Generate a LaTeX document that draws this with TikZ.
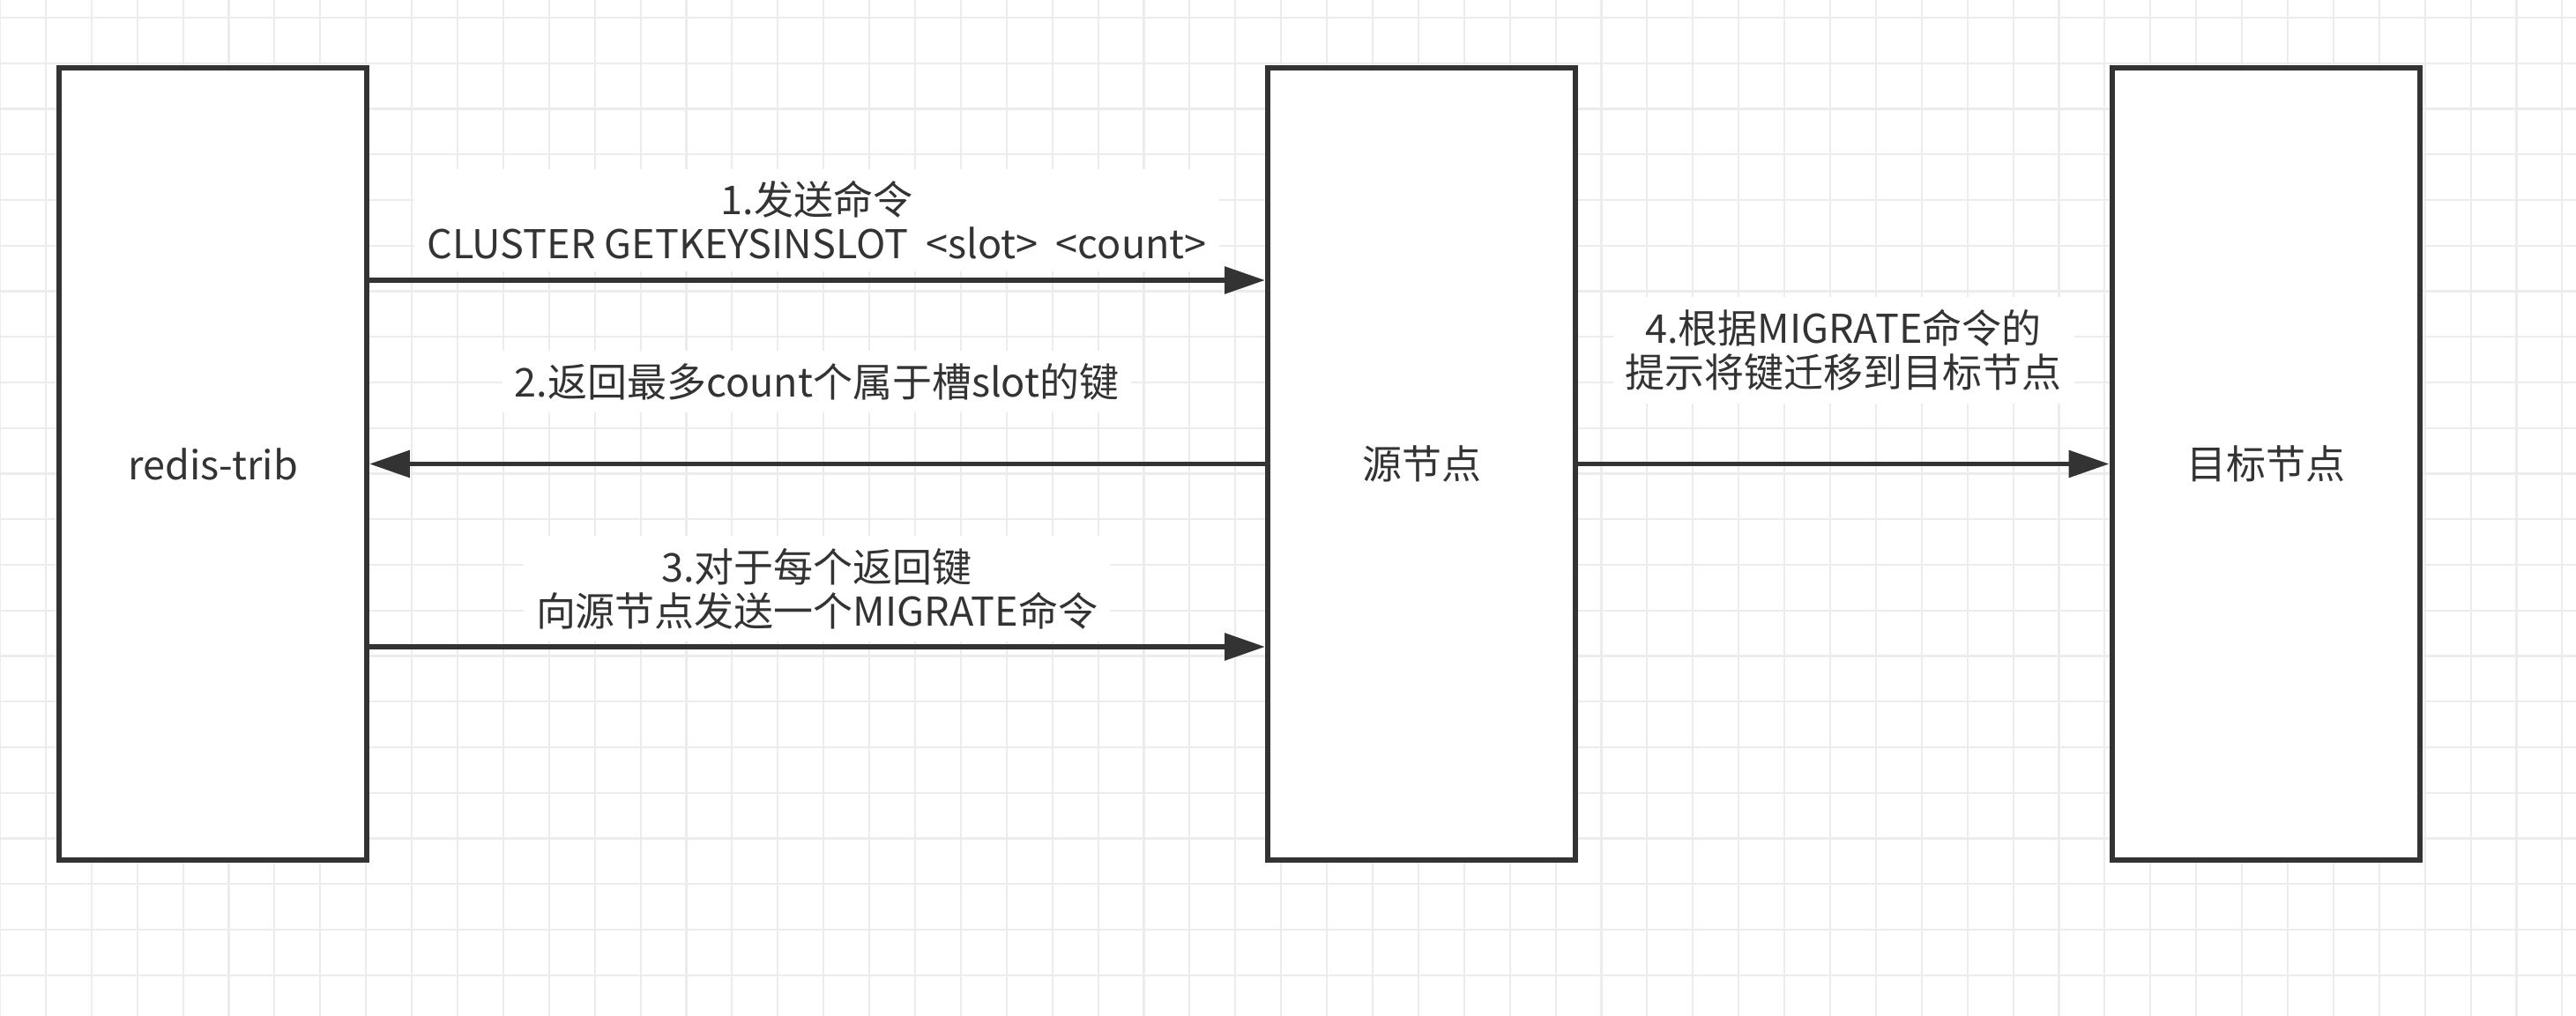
\documentclass[tikz,border=0pt]{standalone}
\usepackage{fontspec}
\setmainfont{Noto Sans CJK SC}
\usetikzlibrary{arrows.meta}
\definecolor{ink}{HTML}{333333}
\definecolor{gridgray}{HTML}{ECECEC}

\begin{document}
\begin{tikzpicture}[
            line width=1.7pt, color=ink, text=ink,
            font=\fontsize{12.8}{14.2}\selectfont,
            lane/.style={draw=ink, fill=white, inner sep=0pt,
                minimum width=3.49cm, minimum height=8.99cm},
            msg/.style={-{Triangle[length=0.46cm,width=0.30cm]}},
            tag/.style={fill=white, align=center, inner sep=4pt}
        ]
            \useasboundingbox (0,0) rectangle (29.22,-11.52);

            % background grid
            \begin{scope}
                \clip (0,0) rectangle (29.22,-11.52);
                \begin{scope}[shift={(0,-0.20)}]
                    \draw[gridgray, line width=0.6pt, xstep=0.519, ystep=0.5175] (0,-12) grid (29.6,0.6);
                \end{scope}
            \end{scope}

            \node[lane] (trib) at (2.415,-5.265) {redis-trib};
            \node[lane] (src)  at (16.125,-5.265) {源节点};
            \node[lane] (dst)  at (25.70,-5.265) {目标节点};

            \draw[msg] ([yshift=2.085cm]trib.east) -- ([yshift=2.085cm]src.west);
            \draw[msg] (src.west) -- (trib.east);
            \draw[msg] ([yshift=-2.075cm]trib.east) -- ([yshift=-2.075cm]src.west);
            \draw[msg] (src.east) -- (dst.west);

            \node[tag] (ask)  at (9.265,-2.50) {1.发送命令\\CLUSTER GETKEYSINSLOT~ <slot>~ <count>};
            \node[tag] (keys) at (9.265,-4.33) {2.返回最多count个属于槽slot的键};
            \node[tag] (each) at (9.265,-6.68) {3.对于每个返回键\\向源节点发送一个MIGRATE命令};
            \node[tag] (move) at (20.91,-3.975) {4.根据MIGRATE命令的\\提示将键迁移到目标节点};
        \end{tikzpicture}
\end{document}
